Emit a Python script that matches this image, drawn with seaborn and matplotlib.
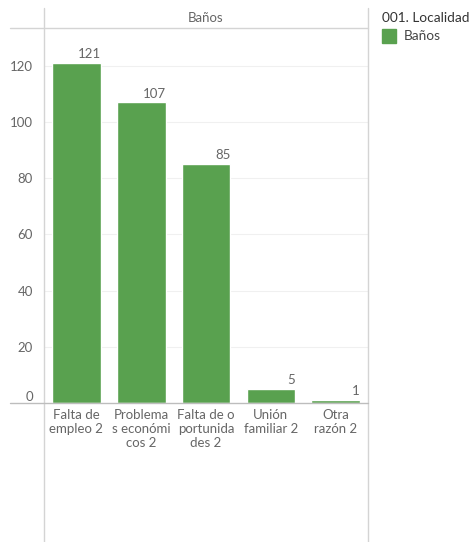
import numpy as np
import pandas as pd
import matplotlib.pyplot as plt
from matplotlib.lines import Line2D
from matplotlib.patches import Rectangle
import seaborn as sns

categorias = ["Falta de\nempleo 2", "Problema\ns económi\ncos 2", "Falta de o\nportunida\ndes 2",
              "Unión\nfamiliar 2", "Otra\nrazón 2"]
valores = [121, 107, 85, 5, 1]
localidad = "Baños"
yticks = [0, 20, 40, 60, 80, 100, 120]

GREEN = "#59A14F"
TXT = "#666666"
LINE = "#d4d4d4"

sns.set_style("white")
plt.rcParams["font.family"] = ["Lato", "DejaVu Sans"]

df = pd.DataFrame({"cat": categorias, "n": valores})

W, H = 472, 542
fig = plt.figure(figsize=(W / 100, H / 100), dpi=100)
x0, x1, y_top, y_base = 44, 368, 28, 403
ax = fig.add_axes([x0 / W, 1 - y_base / H, (x1 - x0) / W, (y_base - y_top) / H])

sns.barplot(data=df, x="cat", y="n", color=GREEN, saturation=1, width=0.75, ax=ax)

ax.set_ylim(0, 133.5)
ax.set_xlim(-0.5, len(categorias) - 0.5)
for s in ax.spines.values():
    s.set_visible(False)
ax.set_xlabel("")
ax.set_ylabel("")
ax.set_yticks(yticks)
ax.set_yticklabels([str(t) for t in yticks], color=TXT, fontsize=9.5)
ax.tick_params(axis="y", length=0, pad=8)
ax.tick_params(axis="x", length=0, pad=4)
ax.set_xticks(range(len(categorias)))
ax.set_xticklabels(categorias, color=TXT, fontsize=9.5, linespacing=1.2)
for t in yticks[1:]:
    ax.axhline(t, color="#f0f0f0", lw=0.8, zorder=0)
# shift the zero label up like the reference
ax.get_yticklabels()[0].set_verticalalignment("bottom")

for p, v in zip(ax.patches, valores):
    ax.text(p.get_x() + p.get_width(), v + 1, str(v), ha="right", va="bottom",
            color=TXT, fontsize=9.5)

# frame lines in figure pixels
def fline(xa, ya, xb, yb, c=LINE, lw=1.0):
    fig.add_artist(Line2D([xa / W, xb / W], [1 - ya / H, 1 - yb / H], color=c, lw=lw))

fline(x0, 8, x0, H)
fline(x1, 8, x1, H)
fline(10, y_top, x1, y_top)
fline(10, y_base, x1, y_base, c="#bdbdbd")

fig.text((x0 + x1) / 2 / W, 1 - 18 / H, localidad, ha="center", va="center",
         color=TXT, fontsize=9.5)

# legend
fig.text(382 / W, 1 - 18 / H, "001. Localidad", ha="left", va="center",
         color="#333333", fontsize=9.8)
fig.add_artist(Rectangle((382 / W, 1 - 43 / H), 14 / W, 14 / H, color=GREEN,
                         transform=fig.transFigure))
fig.text(404 / W, 1 - 36 / H, localidad, ha="left", va="center",
         color="#444444", fontsize=9.8)

fig.savefig("out.png", dpi=100)
